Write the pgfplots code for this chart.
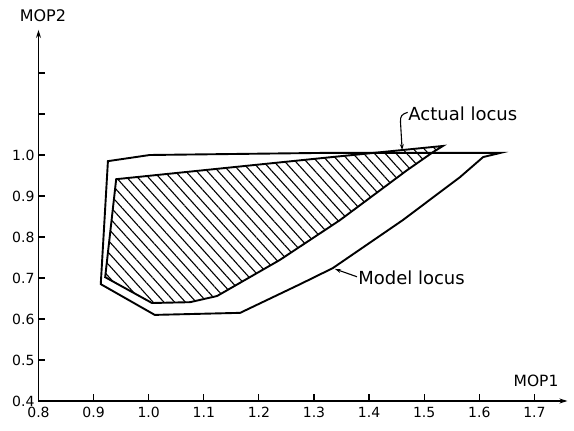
\documentclass[border=0pt]{standalone}
\usepackage{fontspec}
\setmainfont{DejaVu Sans}
\usepackage{pgfplots}
\pgfplotsset{compat=1.18}
\usetikzlibrary{patterns.meta,arrows.meta}

\begin{document}
\begin{tikzpicture}
\begin{axis}[
  x=551pt, y=410pt,
  xmin=0.8, xmax=1.76, ymin=0.4, ymax=1.305,
  axis x line=bottom, axis y line=left,
  axis line style={line width=1.6pt},
  x axis line style={-{Stealth[length=8pt,width=5pt]}},
  y axis line style={-{Stealth[length=8pt,width=5pt]}},
  xtick={0.8,0.9,1.0,1.1,1.2,1.3,1.4,1.5,1.6,1.7},
  xticklabels={0.8,0.9,1.0,1.1,1.2,1.3,1.4,1.5,1.6,1.7},
  ytick={0.4,0.5,0.6,0.7,0.8,0.9,1.0,1.1,1.2},
  yticklabels={0.4,0.5,0.6,0.7,0.8,0.9,1.0,,},
  tick align=inside,
  major tick length=7pt,
  tick style={line width=1.2pt, black},
  tick label style={font=\fontsize{14}{14}\selectfont},
  xticklabel style={yshift=-2.5pt},
  yticklabel style={xshift=-0.5pt},
  clip=false,
]
% outer (model) locus
\addplot[line width=1.9pt, black] coordinates {
  (0.926,0.985) (0.913,0.685) (1.011,0.610) (1.166,0.615) (1.275,0.685)
  (1.334,0.724) (1.461,0.841) (1.565,0.946) (1.607,0.995) (1.638,1.005)
  (1.311,1.005) (1.002,1.000)
} -- cycle;
% inner (actual) locus, hatched
\addplot[line width=1.9pt, black, pattern={Lines[angle=-48,distance=8pt,line width=1.1pt]}] coordinates {
  (0.941,0.941) (0.921,0.702) (1.006,0.639) (1.075,0.641) (1.124,0.656)
  (1.238,0.744) (1.347,0.841) (1.469,0.963) (1.516,1.007) (1.534,1.022)
  (1.311,0.992)
} -- cycle;

\node[anchor=base west, font=\fontsize{18}{18}\selectfont, inner sep=0pt] at (axis cs:1.471,1.083) {Actual locus};
\draw[line width=1.1pt, -{Stealth[length=6pt,width=4pt]}] (axis cs:1.470,1.104) .. controls (axis cs:1.460,1.100) and (axis cs:1.456,1.095) .. (axis cs:1.457,1.080) -- (axis cs:1.460,1.012);
\node[anchor=west, font=\fontsize{18}{18}\selectfont, inner sep=0pt] at (axis cs:1.380,0.700) {Model locus};
\draw[line width=1.1pt, -{Stealth[length=6pt,width=4pt]}] (axis cs:1.378,0.703) -- (axis cs:1.338,0.722);
\node[font=\fontsize{15.5}{15.5}\selectfont] at (axis cs:1.703,0.449) {MOP1};
\node[font=\fontsize{16}{16}\selectfont] at (axis cs:0.808,1.341) {MOP2};
\coordinate (O) at (axis cs:0.8,0.4);
\end{axis}
\pgfresetboundingbox
\path[use as bounding box] (O) ++(-38.5pt,-30pt) rectangle ++(574pt,431pt);
\end{tikzpicture}
\end{document}
